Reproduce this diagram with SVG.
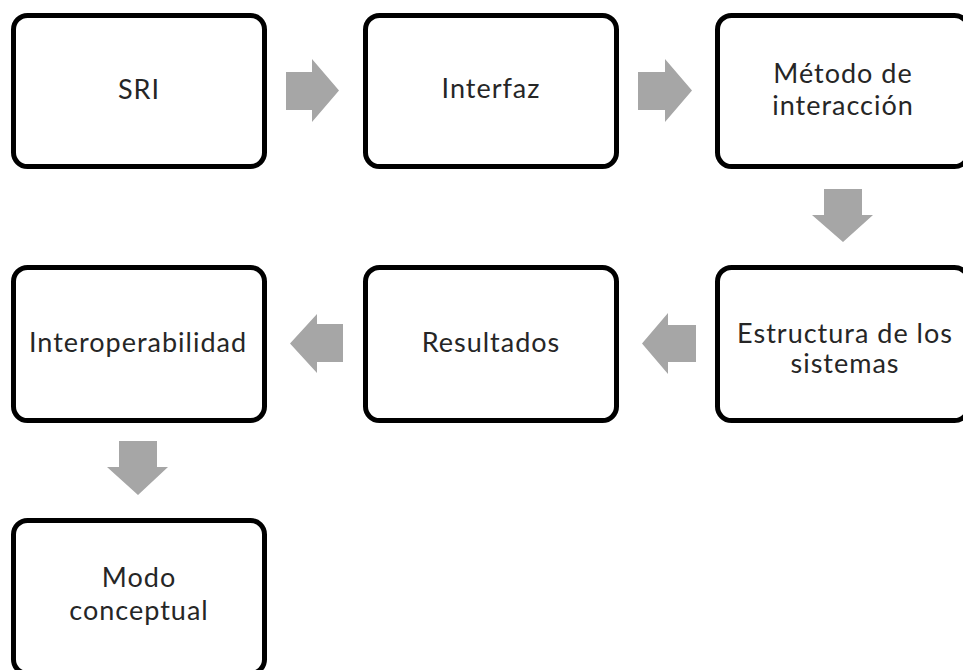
<svg xmlns="http://www.w3.org/2000/svg" width="963" height="670" viewBox="0 0 963 670">
  <style>
    .box { fill: #ffffff; stroke: #000000; stroke-width: 5; }
    .lbl { font-family: Lato, "Open Sans", "Liberation Sans", sans-serif; font-size: 27px; letter-spacing: 1px; fill: #262626; text-anchor: middle; }
    .arrow { fill: #a6a6a6; stroke: none; }
  </style>
  <rect width="963" height="670" fill="#ffffff"/>

  <!-- block arrows between the steps -->
  <g id="connectors">
    <polygon class="arrow" points="286,72 312,72 312,59 339,90.5 312,122 312,110 286,110"/>
    <polygon class="arrow" points="638,72 665,72 665,59 692,90.5 665,122 665,110 638,110"/>
    <polygon class="arrow" points="824,189 862,189 862,215 873,215 843,242 812,215 824,215"/>
    <polygon class="arrow" points="696,325 668,325 668,313 642,343.5 668,374 668,362 696,362"/>
    <polygon class="arrow" points="343,324 317,324 317,314 290,343.5 317,373 317,362 343,362"/>
    <polygon class="arrow" points="119,441 157,441 157,467 168,467 138,495 107,467 119,467"/>
  </g>

  <g id="sri">
    <rect class="box" x="13.5" y="15.5" width="251" height="151" rx="14"/>
    <text class="lbl" x="139" y="99">SRI</text>
  </g>
  <g id="interfaz">
    <rect class="box" x="365.5" y="15.5" width="251" height="151" rx="14"/>
    <text class="lbl" x="491" y="98">Interfaz</text>
  </g>
  <g id="metodo">
    <rect class="box" x="717.5" y="15.5" width="251" height="151" rx="14"/>
    <text class="lbl" x="843" y="83">Método de</text>
    <text class="lbl" x="843" y="115">interacción</text>
  </g>
  <g id="estructura">
    <rect class="box" x="717.5" y="267.5" width="251" height="153" rx="14"/>
    <text class="lbl" x="845" y="343">Estructura de los</text>
    <text class="lbl" x="845" y="373">sistemas</text>
  </g>
  <g id="resultados">
    <rect class="box" x="365.5" y="267.5" width="251" height="153" rx="14"/>
    <text class="lbl" x="491" y="352">Resultados</text>
  </g>
  <g id="interoperabilidad">
    <rect class="box" x="13.5" y="267.5" width="251" height="153" rx="14"/>
    <text class="lbl" x="138" y="352">Interoperabilidad</text>
  </g>
  <g id="modo">
    <rect class="box" x="13.5" y="520.5" width="251" height="153" rx="14"/>
    <text class="lbl" x="139" y="587">Modo</text>
    <text class="lbl" x="139" y="620">conceptual</text>
  </g>
</svg>
